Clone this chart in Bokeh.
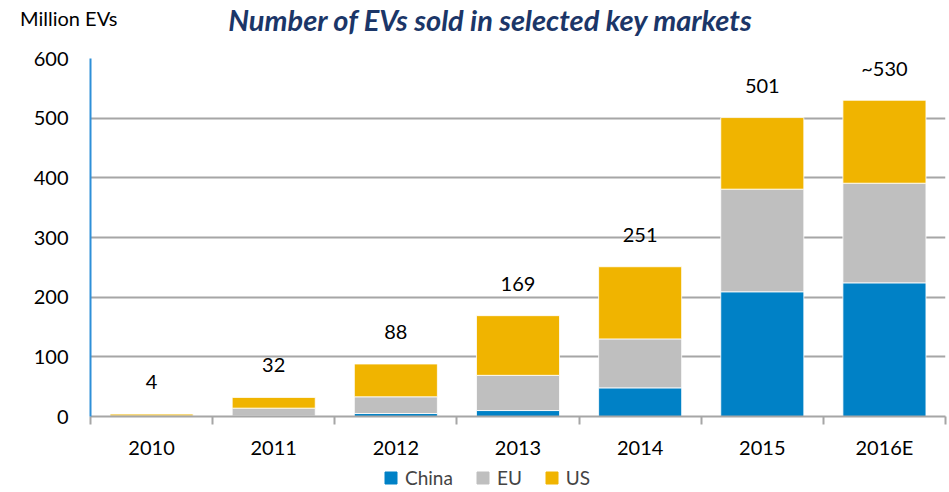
from bokeh.plotting import figure
from bokeh.layouts import column
from bokeh.models import (FactorRange, Range1d, LinearAxis, FixedTicker, Legend,
                          LegendItem, ColumnDataSource, Div)
from bokeh.embed import file_html
from bokeh.resources import INLINE
from bokeh.core.properties import value

years = ["2010", "2011", "2012", "2013", "2014", "2015", "2016E"]
china = [0.3, 1, 5, 10, 48, 209, 224]
eu = [0.7, 13, 28, 59, 82, 172, 167]
us = [3, 18, 55, 100, 121, 120, 139]
total_labels = ["4", "32", "88", "169", "251", "501", "~530"]
y_ticks = [0, 100, 200, 300, 400, 500, 600]
series = ["China", "EU", "US"]
colors = ["#0081C6", "#BFBFBF", "#F0B400"]
title_text = "Number of EVs sold in selected key markets"
unit_text = "Million EVs"

FONT = "Lato"
totals = [c + e + u for c, e, u in zip(china, eu, us)]
src = ColumnDataSource(dict(year=years, China=china, EU=eu, US=us,
                            total=totals, lab=total_labels))

W = 949
HEAD_H = 46
MAIN_H = 415
FOOT_H = 492 - HEAD_H - MAIN_H

# ---- header: unit label and title ----
head_html = (
    '<div style="position:relative;width:%dpx;height:%dpx;margin:0;padding:0;">'
    '<span style="position:absolute;left:20px;top:7px;font-family:Lato;'
    'font-size:20px;line-height:22px;color:#000000;white-space:nowrap;">%s</span>'
    '<span style="position:absolute;left:490px;top:3px;transform:translateX(-50%%);'
    'font-family:Lato;font-size:29px;line-height:34px;font-weight:bold;'
    'font-style:italic;color:#1B3668;white-space:nowrap;">%s</span>'
    '</div>' % (W, HEAD_H, unit_text, title_text)
)
head = Div(text=head_html, width=W, height=HEAD_H, margin=0)

# ---- main chart ----
p = figure(x_range=FactorRange(*years), y_range=Range1d(0, 600),
           width=W, height=MAIN_H, output_backend="svg", toolbar_location=None,
           min_border_left=90, min_border_right=4, min_border_top=12,
           min_border_bottom=44)
p.outline_line_color = None
p.xgrid.grid_line_color = None
p.ygrid.grid_line_color = "#A6A6A6"
p.ygrid.grid_line_width = 2
p.ygrid.ticker = FixedTicker(ticks=y_ticks)

rs = p.vbar_stack(series, x="year", width=0.68, color=colors,
                  line_color="white", line_width=0.8, source=src)

p.text(x="year", y="total", text="lab", source=src, text_align="center",
       text_baseline="middle", y_offset=-32, text_font=value(FONT),
       text_font_size="20px", text_color="#000000")

# y axis
p.yaxis.ticker = FixedTicker(ticks=y_ticks)
p.yaxis.axis_line_color = "#2E8FD8"
p.yaxis.axis_line_width = 2
p.yaxis.major_tick_line_color = None
p.yaxis.major_tick_out = 0
p.yaxis.minor_tick_line_color = None
p.yaxis.major_label_standoff = 22
p.yaxis.major_label_text_font = FONT
p.yaxis.major_label_text_font_size = "20px"
p.yaxis.major_label_text_color = "#000000"

# category axis (labels only)
cat_axis = p.xaxis[0]
cat_axis.axis_line_color = None
cat_axis.major_tick_line_color = None
cat_axis.major_tick_out = 0
cat_axis.major_tick_in = 0
cat_axis.major_label_standoff = 10
cat_axis.major_label_text_font = FONT
cat_axis.major_label_text_font_size = "20px"
cat_axis.major_label_text_color = "#000000"

# edge axis with ticks between categories (synthetic coordinates 0..7)
edge_ticks = list(range(len(years) + 1))
edge_axis = LinearAxis(ticker=FixedTicker(ticks=edge_ticks))
edge_axis.axis_line_color = "#A6A6A6"
edge_axis.axis_line_width = 2
edge_axis.major_tick_line_color = "#A6A6A6"
edge_axis.major_tick_line_width = 2
edge_axis.major_tick_in = 0
edge_axis.major_tick_out = 8
edge_axis.minor_tick_line_color = None
edge_axis.major_label_overrides = {t: "" for t in edge_ticks}
edge_axis.major_label_text_font_size = "1px"
edge_axis.major_label_standoff = 0
p.add_layout(edge_axis, "below")
p.below = [edge_axis, cat_axis]

# ---- footer with legend (bars kept outside its visible range) ----
foot = figure(x_range=FactorRange(*years), y_range=Range1d(1000, 1001),
              width=W, height=FOOT_H, output_backend="svg", toolbar_location=None,
              min_border=0, min_border_left=90, min_border_right=4,
              outline_line_color=None)
foot.axis.visible = False
foot.grid.visible = False
frs = foot.vbar_stack(series, x="year", width=0.68, color=colors, source=src)
legend = Legend(items=[LegendItem(label=s, renderers=[r]) for s, r in zip(series, frs)],
                orientation="horizontal", location=(293, 3),
                label_text_font=FONT, label_text_font_size="19px",
                glyph_width=15, glyph_height=15, spacing=22, padding=0,
                margin=0, border_line_color=None, background_fill_alpha=0,
                label_standoff=7, label_height=18)
foot.add_layout(legend, "center")

layout = column(head, p, foot, spacing=0)
open("out.html", "w").write(file_html(layout, INLINE))
